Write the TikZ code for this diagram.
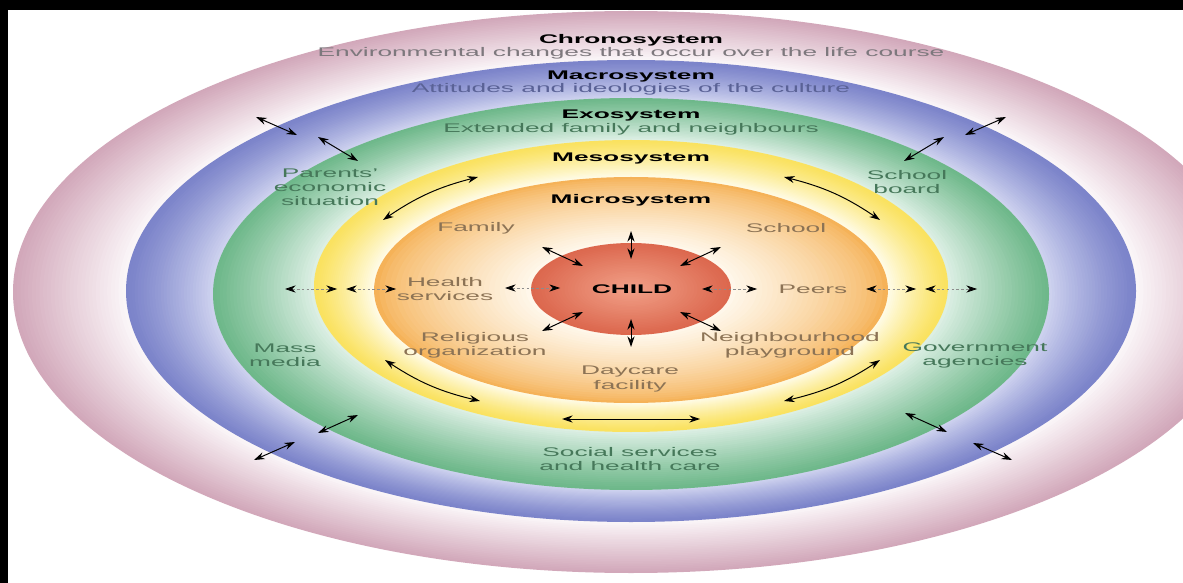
\documentclass[tikz,border=0pt]{standalone}
\usepackage{fontspec}
\setmainfont{Liberation Sans}[FakeStretch=2.1]
\usetikzlibrary{arrows.meta}

\definecolor{chronoout}{RGB}{210,168,186}
\definecolor{chronoin}{RGB}{252,248,250}
\definecolor{macroout}{RGB}{124,132,202}
\definecolor{macroin}{RGB}{208,212,240}
\definecolor{exoout}{RGB}{110,184,138}
\definecolor{exoin}{RGB}{224,241,231}
\definecolor{mesoout}{RGB}{250,226,96}
\definecolor{mesoin}{RGB}{255,252,234}
\definecolor{microout}{RGB}{245,178,88}
\definecolor{microin}{RGB}{255,249,238}
\definecolor{childout}{RGB}{220,104,78}
\definecolor{childin}{RGB}{242,162,138}
\definecolor{chronotxt}{RGB}{125,120,125}
\definecolor{macrotxt}{RGB}{90,98,150}
\definecolor{exotxt}{RGB}{70,120,90}
\definecolor{microtxt}{RGB}{140,115,85}

% ring from an outer to an inner ellipse, colour fading outwards-in
% #1 cx, #2 cy out, #3 a out, #4 b out, #5 cy in, #6 a in, #7 b in, #8 outer colour, #9 inner colour
\def\ringpow{1}
\newcommand{\sysring}[9]{%
  \foreach \k in {0,...,30}{%
    \pgfmathtruncatemacro{\pc}{100*(\k/30)^\ringpow}%
    \pgfmathsetmacro{\ra}{#3-(#3-#6)*\k/30}%
    \pgfmathsetmacro{\rb}{#4-(#4-#7)*\k/30}%
    \pgfmathsetmacro{\cy}{#2-(#2-#5)*\k/30}%
    \fill[#9!\pc!#8] (#1,\cy) ellipse [x radius=\ra, y radius=\rb];
  }}

\begin{document}
\begin{tikzpicture}[x=0.025cm, y=-0.025cm,
    every node/.style={font=\fontsize{8.9}{10}\selectfont, align=center},
    systitle/.style={font=\fontsize{8.9}{10}\selectfont\bfseries, text=black},
    microlbl/.style={text=microtxt},
    exolbl/.style={text=exotxt},
    biarrow/.style={{Stealth[length=7.5pt,width=5pt]}-{Stealth[length=7.5pt,width=5pt]}, line width=0.7pt},
    dashbi/.style={{Stealth[length=7.5pt,width=5pt,color=black]}-{Stealth[length=7.5pt,width=5pt,color=black]},
        draw=black!45, line width=0.5pt, dash pattern=on 2pt off 1.5pt}]
    \useasboundingbox (0,0) rectangle (1183,583);
    % Frame
    \fill[black] (0,0) rectangle (1183,583);
    \fill[white] (8,10) rectangle (1183,583);
    % Systems
    \begin{scope}
        \clip (8,10) rectangle (1183,583);
        \def\ringpow{1}
        \sysring{631}{292}{618}{281}{291}{505}{231}{chronoout}{chronoin}
        \def\ringpow{1.2}
        \sysring{631}{291}{505}{231}{294}{418}{196}{macroout}{macroin}
        \def\ringpow{1.1}
        \sysring{631}{294}{418}{196}{286}{317}{146}{exoout}{exoin}
        \def\ringpow{1.2}
        \sysring{631}{286}{317}{146}{290}{257}{113}{mesoout}{mesoin}
        \def\ringpow{0.75}
        \sysring{631}{290}{257}{113}{289}{100}{46}{microout}{microin}
        \def\ringpow{1}
        \sysring{631}{289}{100}{46}{289}{0}{0}{childout}{childin}
    \end{scope}
    % Titles
    \node[systitle] (chrono) at (631,40) {Chronosystem};
    \node[text=chronotxt] (chronosub) at (631,53) {Environmental changes that occur over the life course};
    \node[systitle] (macro) at (631,76) {Macrosystem};
    \node[text=macrotxt] (macrosub) at (631,89) {Attitudes and ideologies of the culture};
    \node[systitle] (exo) at (631,115) {Exosystem};
    \node[text=exotxt] (exosub) at (631,129) {Extended family and neighbours};
    \node[systitle] (meso) at (631,158) {Mesosystem};
    \node[systitle] (micro) at (631,200) {Microsystem};
    \node[systitle] (child) at (632,289) {CHILD};
    % Microsystem
    \node[microlbl] (family) at (476,228) {Family};
    \node[microlbl] (school) at (786,228) {School};
    \node[microlbl] (health) at (445,289) {Health\\services};
    \node[microlbl] (peers) at (813,289) {Peers};
    \node[microlbl] (religion) at (475,345) {Religious\\organization};
    \node[microlbl] (playground) at (790,345) {Neighbourhood\\playground};
    \node[microlbl] (daycare) at (630,379) {Daycare\\facility};
    % Exosystem
    \node[exolbl] (parents) at (330,187) {Parents'\\economic\\situation};
    \node[exolbl] (board) at (907,182) {School\\board};
    \node[exolbl] (media) at (285,355) {Mass\\media};
    \node[exolbl] (govt) at (975,355) {Government\\agencies};
    \node[exolbl] (social) at (630,459) {Social services\\and health care};
    % Child spokes
    \draw[biarrow] (631,231) -- (631,259);
    \draw[biarrow] (631,319) -- (631,347);
    \draw[biarrow] (542,247) -- (583,266);
    \draw[biarrow] (721,247) -- (680,266);
    \draw[biarrow] (542,331) -- (583,312);
    \draw[biarrow] (721,331) -- (680,312);
    \draw[dashbi] (505,288) -- (560,288);
    \draw[dashbi] (702,289) -- (757,289);
    \draw[dashbi] (285,289) -- (337,289);
    \draw[dashbi] (346,289) -- (396,289);
    \draw[dashbi] (866,289) -- (916,289);
    \draw[dashbi] (925,289) -- (977,289);
    % Mesosystem links
    \draw[biarrow] (383,220) to[bend left=10] (478,177);
    \draw[biarrow] (784,177) to[bend left=10] (880,220);
    \draw[biarrow] (385,360) to[bend right=10] (480,401);
    \draw[biarrow] (880,360) to[bend left=10] (784,401);
    \draw[biarrow] (562,419) -- (700,419);
    % Exosystem links
    \draw[biarrow] (256,117) -- (297,135);
    \draw[biarrow] (318,137) -- (358,161);
    \draw[biarrow] (1006,117) -- (965,135);
    \draw[biarrow] (944,137) -- (904,161);
    \draw[biarrow] (358,415) -- (318,433);
    \draw[biarrow] (295,442) -- (254,460);
    \draw[biarrow] (905,413) -- (947,432);
    \draw[biarrow] (973,443) -- (1012,460);
\end{tikzpicture}
\end{document}
